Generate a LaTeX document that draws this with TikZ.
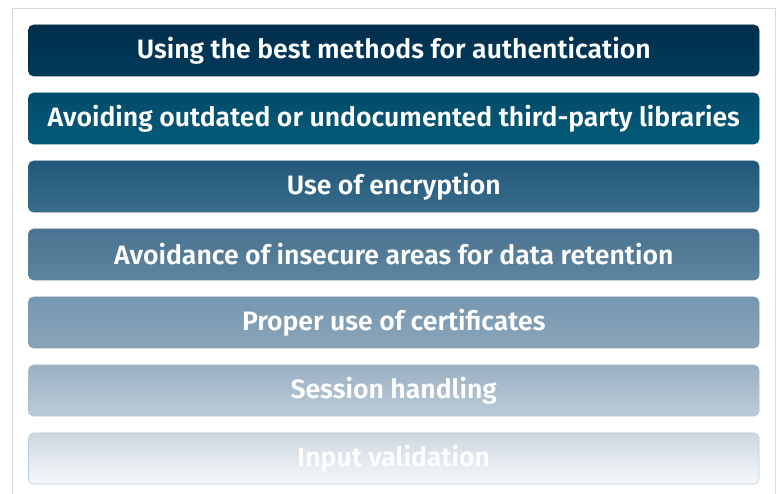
\documentclass[tikz,border=0pt]{standalone}
\usepackage{fontspec}
\setmainfont{Fira Sans}[BoldFont={Fira Sans SemiBold}]
\begin{document}
\begin{tikzpicture}[x=1pt,y=1pt,
  bar/.style={rounded corners=5pt, draw=#1, line width=0.6pt},
  lbl/.style={text=white, font=\bfseries\fontsize{26.6}{30}\selectfont, anchor=center}]
\useasboundingbox (0,0) rectangle (781,494);
\fill[white] (0,0) rectangle (781,494);
\draw[line width=1pt, color={rgb,255:red,217;green,217;blue,217}] (12.5,-2) -- (12.5,485.5) -- (775.5,485.5) -- (775.5,-2);
\definecolor{t1}{HTML}{002E4C}\definecolor{b1}{HTML}{003B5B}
\definecolor{t2}{HTML}{024B6A}\definecolor{b2}{HTML}{055A79}
\definecolor{t3}{HTML}{22587A}\definecolor{b3}{HTML}{3A6D8C}
\definecolor{t4}{HTML}{4A7391}\definecolor{b4}{HTML}{5E85A0}
\definecolor{t5}{HTML}{7797B0}\definecolor{b5}{HTML}{89A4B9}
\definecolor{t6}{HTML}{99B0C4}\definecolor{b6}{HTML}{BDCBD8}
\definecolor{t7}{HTML}{CED7E1}\definecolor{b7}{HTML}{F5F8FA}
\foreach \i/\bd/\txt in {
 1/002E4C/Using the best methods for authentication,
 2/03506F/Avoiding outdated or undocumented third-party libraries,
 3/2E6384/Use of encryption,
 4/557D99/Avoidance of insecure areas for data retention,
 5/809DB4/Proper use of certificates,
 6/A9BFD0/Session handling,
 7/B8CEDB/Input validation} {
  \definecolor{bdc}{HTML}{\bd}
  \pgfmathsetmacro{\yt}{494-25-68*(\i-1)}
  \pgfmathsetmacro{\yb}{\yt-51}
  \pgfmathsetmacro{\yc}{\yt-25.5}
  \shade[rounded corners=5pt, top color=t\i, bottom color=b\i] (28.5,\yb) rectangle (759,\yt);
  \draw[bar=bdc] (28.5,\yb) rectangle (759,\yt);
  \node[lbl] (n\i) at (393.75,\yc) {\txt};
}
\end{tikzpicture}
\end{document}
